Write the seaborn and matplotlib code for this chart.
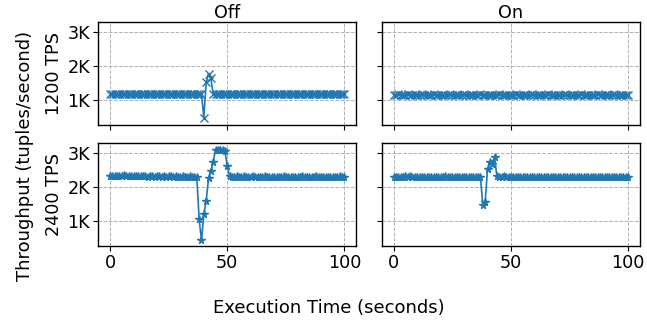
import matplotlib
matplotlib.use("Agg")
import matplotlib.pyplot as plt
import seaborn as sns
import pandas as pd
from matplotlib.ticker import FuncFormatter

sns.set_style("ticks")
plt.rcParams['font.family'] = ['DejaVu Sans']
plt.rcParams.update({
    "text.color": "black",
    "axes.labelcolor": "black",
    "xtick.color": "black",
    "ytick.color": "black",
})

seconds = list(range(0, 101))

tps1200_off = [
    1170, 1160, 1170, 1160, 1170, 1160, 1160, 1170, 1160, 1160,
    1160, 1170, 1160, 1160, 1160, 1170, 1160, 1160, 1160, 1160,
    1160, 1170, 1160, 1160, 1160, 1160, 1170, 1160, 1160, 1160,
    1160, 1160, 1170, 1160, 1160, 1160, 1160, 1160, 1160, 1160,
    470, 1510, 1760, 1640, 1160, 1160, 1160, 1170, 1160, 1160,
    1160, 1160, 1160, 1170, 1160, 1160, 1160, 1160, 1160, 1170,
    1160, 1160, 1160, 1160, 1160, 1160, 1170, 1160, 1160, 1160,
    1160, 1160, 1160, 1160, 1170, 1160, 1160, 1160, 1160, 1160,
    1160, 1170, 1160, 1160, 1160, 1160, 1160, 1160, 1170, 1160,
    1160, 1160, 1160, 1160, 1160, 1170, 1160, 1160, 1160, 1160,
    1160,
]

tps1200_on = [
    1150, 1150, 1160, 1150, 1150, 1150, 1160, 1150, 1150, 1150,
    1150, 1150, 1160, 1150, 1150, 1150, 1150, 1160, 1150, 1150,
    1150, 1150, 1150, 1150, 1160, 1150, 1150, 1150, 1150, 1150,
    1160, 1150, 1150, 1150, 1150, 1150, 1150, 1160, 1150, 1150,
    1150, 1150, 1150, 1150, 1150, 1160, 1150, 1150, 1150, 1150,
    1150, 1150, 1160, 1150, 1150, 1150, 1150, 1150, 1150, 1160,
    1150, 1150, 1150, 1150, 1150, 1150, 1160, 1150, 1150, 1150,
    1150, 1150, 1150, 1160, 1150, 1150, 1150, 1150, 1150, 1150,
    1160, 1150, 1150, 1150, 1150, 1150, 1150, 1160, 1150, 1150,
    1150, 1150, 1150, 1150, 1160, 1150, 1150, 1150, 1150, 1150,
    1150,
]

tps2400_off = [
    2340, 2330, 2340, 2340, 2330, 2340, 2350, 2330, 2340, 2330,
    2330, 2320, 2330, 2320, 2320, 2330, 2310, 2320, 2320, 2310,
    2320, 2320, 2310, 2320, 2310, 2320, 2320, 2310, 2320, 2310,
    2310, 2320, 2310, 2310, 2320, 2310, 2310, 2310,
    1050, 430, 1200, 1600, 2260, 2480, 2750, 3110, 3090, 3100,
    3090, 3070, 2620,
    2320, 2310, 2310, 2320, 2310, 2310, 2320, 2310, 2300, 2310,
    2320, 2310, 2300, 2310, 2310, 2320, 2310, 2300, 2310, 2310,
    2310, 2300, 2310, 2320, 2310, 2290, 2310, 2310, 2300, 2310,
    2310, 2320, 2300, 2310, 2310, 2300, 2310, 2320, 2310, 2300,
    2310, 2310, 2300, 2310, 2310, 2300, 2310, 2320, 2310, 2310,
]

tps2400_on = [
    2310, 2300, 2310, 2310, 2300, 2320, 2310, 2330, 2290, 2310,
    2310, 2300, 2310, 2300, 2310, 2300, 2310, 2310, 2300, 2290,
    2300, 2310, 2320, 2310, 2310, 2300, 2310, 2300, 2310, 2310,
    2300, 2310, 2300, 2310, 2300, 2310, 2300, 2300,
    1460, 1550, 2530, 2750, 2690, 2900,
    2320, 2310, 2310, 2320, 2310, 2310, 2300, 2310, 2310, 2300,
    2310, 2310, 2300, 2310, 2310, 2300, 2310, 2310, 2300, 2310,
    2310, 2300, 2310, 2310, 2300, 2310, 2310, 2300, 2310, 2310,
    2300, 2310, 2310, 2300, 2310, 2310, 2300, 2310, 2310, 2300,
    2310, 2310, 2300, 2310, 2310, 2300, 2310, 2310, 2300, 2310,
    2310, 2310, 2300, 2310, 2310, 2310, 2300,
]

col_titles = ["Off", "On"]
row_labels = ["1200 TPS", "2400 TPS"]
row_markers = ["x", "*"]
y_ticks = [1000, 2000, 3000]
x_ticks = [0, 50, 100]

series = [[tps1200_off, tps1200_on], [tps2400_off, tps2400_on]]

fig, axes = plt.subplots(2, 2, figsize=(6.47, 3.28), dpi=100, sharex=True, sharey=True)
fig.subplots_adjust(left=0.152, right=0.989, top=0.933, bottom=0.25, wspace=0.1, hspace=0.18)

color = "#1f77b4"
fs = 12.7
for r in range(2):
    for c in range(2):
        ax = axes[r][c]
        df = pd.DataFrame({"t": seconds, "v": series[r][c]})
        sns.lineplot(data=df, x="t", y="v", ax=ax, color=color, marker=row_markers[r],
                     markersize=5.5, markeredgecolor=color, markeredgewidth=1.0,
                     linewidth=1.2)
        ax.grid(True, linestyle="--", color="#b0b0b0", linewidth=0.7)
        ax.set_xlabel("")
        ax.set_ylabel("")
        for s in ax.spines.values():
            s.set_color("black")
            s.set_linewidth(1.0)
        ax.tick_params(labelsize=fs, length=3.5, width=0.8, color="black", pad=2.5)
        if r == 0:
            ax.set_title(col_titles[c], fontsize=fs, pad=3)
        if c == 0:
            ax.set_ylabel(row_labels[r], fontsize=fs, labelpad=3)

axes[0][0].set_ylim(260, 3300)
axes[0][0].set_xlim(-5, 105)
axes[0][0].set_yticks(y_ticks)
axes[0][0].set_xticks(x_ticks)
axes[0][0].yaxis.set_major_formatter(FuncFormatter(lambda v, p: f"{int(v/1000)}K"))

fig.supylabel("Throughput (tuples/second)", fontsize=13, x=0.024, y=0.526)
fig.supxlabel("Execution Time (seconds)", fontsize=13, x=0.508, y=0.035)

fig.savefig("out.png", dpi=100)
